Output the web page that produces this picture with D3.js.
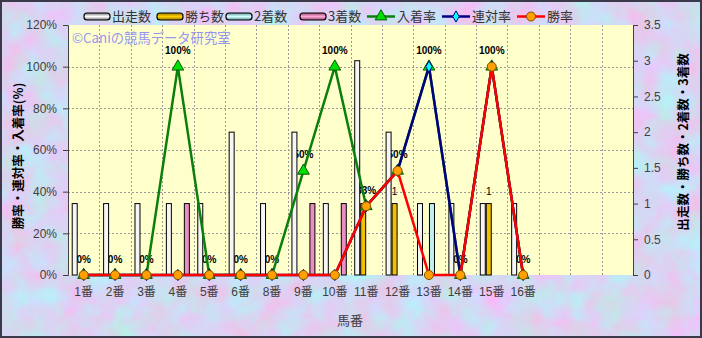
<!DOCTYPE html>
<html>
<head>
<meta charset="utf-8">
<title>馬番別成績</title>
<style type="text/css">
	body { margin: 0; padding: 0; background: #ffffff; }
	svg { display: block; font-family: "Liberation Sans", "Noto Sans CJK JP", sans-serif; }
	.tick text { fill: #404040; font-size: 12px; }
	.gtitle { font-family: "Noto Sans CJK JP", sans-serif; font-weight: bold; font-size: 12.5px; fill: #000; }
	.lbl { font-family: "Liberation Sans", sans-serif; font-weight: bold; font-size: 10px; fill: #000; }
</style>
</head>
<body>
<svg id="chart"></svg>
<script src="https://d3js.org/d3.v7.min.js"></script>
<script>
	// 馬番 (7番 has no runs, so it is not listed); 3 empty slots on the right
	var categories = ["1番","2番","3番","4番","5番","6番","8番","9番","10番","11番","12番","13番","14番","15番","16番"];
	var emptySlots = 3;

	// bar series (right axis)
	var starts  = [1,1,1,1,1,2,1,2,1,3,2,1,1,1,1];
	var wins    = [0,0,0,0,0,0,0,0,0,1,1,0,0,1,0];
	var seconds = [0,0,0,0,0,0,0,0,0,0,0,1,0,0,0];
	var thirds  = [0,0,0,1,0,0,0,1,1,0,0,0,0,0,0];

	// line series (left axis, %)
	var placeRate = [0,0,0,100,0,0,0,50,100,33,50,100,0,100,0];
	var quinRate  = [0,0,0,0,0,0,0,0,0,33,50,100,0,100,0];
	var winRate   = [0,0,0,0,0,0,0,0,0,33,50,0,0,100,0];

	var leftTicks  = [0,20,40,60,80,100,120];
	var rightTicks = [0,0.5,1,1.5,2,2.5,3,3.5];

	var width = 702, height = 338;
	var plot = {left: 68, right: 633, top: 25, bottom: 275};

	var svg = d3.select("#chart").attr("width", width).attr("height", height);
	var defs = svg.append("defs");

	// marbled background
	var f = defs.append("filter").attr("id", "marble")
		.attr("x", 0).attr("y", 0).attr("width", "100%").attr("height", "100%")
		.attr("color-interpolation-filters", "sRGB");
	f.append("feTurbulence").attr("type", "fractalNoise").attr("baseFrequency", 0.035)
		.attr("numOctaves", 4).attr("seed", 7);
	f.append("feColorMatrix").attr("type", "matrix")
		.attr("values", "0.36 0 0 0 0.66  -0.3 0 0 0 0.99  0 0.14 0 0 0.88  0 0 0 0 1");

	svg.append("rect").attr("width", width).attr("height", height).attr("filter", "url(#marble)");
	svg.append("rect").attr("x", 1).attr("y", 1).attr("width", width - 2).attr("height", height - 2)
		.attr("fill", "none").attr("stroke", "#3a3a4a").attr("stroke-width", 2);

	var idx = d3.range(categories.length + emptySlots);

	var x = d3.scaleBand().domain(idx).range([plot.left, plot.right]);
	var barKeys = ["starts","wins","seconds","thirds"];
	var xs = d3.scaleBand().domain(barKeys).range([0, x.bandwidth()]).paddingOuter(0.62);

	var yL = d3.scaleLinear().domain([0, 120]).range([plot.bottom, plot.top]);
	var yR = d3.scaleLinear().domain([0, 3.5]).range([plot.bottom, plot.top]);

	// plot area
	svg.append("rect").attr("x", plot.left).attr("y", plot.top)
		.attr("width", plot.right - plot.left).attr("height", plot.bottom - plot.top)
		.attr("fill", "#ffffcc");

	// grid
	var grid = svg.append("g").attr("stroke", "#9a9a9a").attr("stroke-dasharray", "2,2").attr("stroke-width", 1);
	grid.selectAll("line.h").data(leftTicks.filter(d => d > 0 && d < 120)).enter().append("line")
		.attr("x1", plot.left).attr("x2", plot.right)
		.attr("y1", d => Math.round(yL(d)) + 0.5).attr("y2", d => Math.round(yL(d)) + 0.5);
	grid.selectAll("line.v").data(idx.slice(1)).enter().append("line")
		.attr("y1", plot.top).attr("y2", plot.bottom)
		.attr("x1", d => Math.round(x(d)) + 0.5).attr("x2", d => Math.round(x(d)) + 0.5);

	// watermark
	svg.append("text").attr("x", 72).attr("y", 42.5)
		.attr("font-family", "'Noto Sans CJK JP', sans-serif").attr("font-size", 13.3)
		.attr("fill", "#9696f0").text("©Caniの競馬データ研究室");

	var cx = i => x(i) + x.bandwidth() / 2;

	// 入着率 labels (sit under the bars)
	var labelY = d => yL(d) - 12.5;
	svg.append("g").selectAll("text").data(placeRate).enter().append("text")
		.attr("class", "lbl").attr("text-anchor", "middle")
		.attr("x", (d, i) => cx(i)).attr("y", labelY)
		.text(d => d + "%");

	// bars
	var barSeries = [
		{key: "starts",  values: starts,  fill: "#f6f6f6"},
		{key: "wins",    values: wins,    fill: "#f2c000"},
		{key: "seconds", values: seconds, fill: "#bff0f0"},
		{key: "thirds",  values: thirds,  fill: "#ec8ec2"}
	];
	var bars = svg.append("g");
	barSeries.forEach(function(s) {
		bars.append("g").selectAll("rect").data(s.values).enter().append("rect")
			.attr("x", (d, i) => x(i) + xs(s.key) + 0.5)
			.attr("y", d => yR(d))
			.attr("width", xs.bandwidth() - 1)
			.attr("height", d => yR(0) - yR(d))
			.attr("fill", s.fill).attr("stroke", "#000").attr("stroke-width", 1);
	});

	// 勝ち数 labels (hidden where the 入着率 label already sits)
	var winLabels = wins.map((d, i) => ({d: d, i: i}))
		.filter(o => o.d > 0 && Math.abs(labelY(placeRate[o.i]) - (yR(o.d) - 9)) > 8);
	svg.append("g").selectAll("text").data(winLabels).enter().append("text")
		.attr("class", "lbl").attr("text-anchor", "middle").style("font-weight", "normal")
		.attr("x", o => x(o.i) + xs("wins") + xs.bandwidth() / 2)
		.attr("y", o => yR(o.d) - 9)
		.text(o => o.d);

	// lines
	var line = d3.line().x((d, i) => cx(i)).y(d => yL(d));
	var lineSeries = [
		{values: placeRate, stroke: "#0a800a", marker: "tri", mfill: "#00e000", mstroke: "#0a5a0a"},
		{values: quinRate,  stroke: "#000080", marker: "dia", mfill: "#00ffff", mstroke: "#000080"},
		{values: winRate,   stroke: "#ff0000", marker: "cir", mfill: "#ffa000", mstroke: "#7a5000"}
	];
	var symbols = {
		tri: d3.symbol().type(d3.symbolTriangle).size(60),
		dia: d3.symbol().type(d3.symbolDiamond).size(36),
		cir: d3.symbol().type(d3.symbolCircle).size(64)
	};
	lineSeries.forEach(function(s) {
		var g = svg.append("g");
		g.append("path").datum(s.values).attr("d", line)
			.attr("fill", "none").attr("stroke", s.stroke).attr("stroke-width", 2.5);
		g.selectAll("path.m").data(s.values).enter().append("path")
			.attr("transform", (d, i) => "translate(" + cx(i) + "," + yL(d) + ")")
			.attr("d", symbols[s.marker])
			.attr("fill", s.mfill).attr("stroke", s.mstroke).attr("stroke-width", 1);
	});

	// axes
	var axL = svg.append("g").attr("transform", "translate(" + plot.left + ",0)")
		.call(d3.axisLeft(yL).tickValues(leftTicks).tickFormat(d => d + "%").tickSize(5).tickPadding(6));
	var axR = svg.append("g").attr("transform", "translate(" + plot.right + ",0)")
		.call(d3.axisRight(yR).tickValues(rightTicks).tickFormat(d3.format("")).tickSize(5).tickPadding(6));
	var axB = svg.append("g").attr("transform", "translate(0," + plot.bottom + ")")
		.call(d3.axisBottom(x).tickFormat(i => categories[i] || "").tickSize(0).tickPadding(12));
	[axL, axR].forEach(a => {
		a.select(".domain").attr("stroke", "#404040");
		a.selectAll(".tick line").attr("stroke", "#404040");
	});
	axB.select(".domain").remove();
	svg.selectAll(".tick text").attr("font-family", "'Liberation Sans', 'Noto Sans CJK JP', sans-serif");

	// axis titles
	svg.append("text").attr("class", "gtitle").attr("text-anchor", "middle")
		.attr("transform", "translate(23,156) rotate(-90)").text("勝率・連対率・入着率(%)");
	svg.append("text").attr("class", "gtitle").attr("text-anchor", "middle")
		.attr("transform", "translate(688,142) rotate(-90)").text("出走数・勝ち数・2着数・3着数");
	svg.append("text").attr("x", 350).attr("y", 325).attr("text-anchor", "middle")
		.attr("font-family", "'Noto Sans CJK JP', sans-serif").attr("font-size", 13).attr("fill", "#404040")
		.text("馬番");

	// legend
	var legendBars = [
		{name: "出走数", x: 84,  c1: "#7a7a7a", c2: "#ffffff"},
		{name: "勝ち数", x: 157, c1: "#a07800", c2: "#ffd000"},
		{name: "2着数",  x: 226, c1: "#5c9a9a", c2: "#d8ffff"},
		{name: "3着数",  x: 300, c1: "#9a4a74", c2: "#ffa8d8"}
	];
	var lg = svg.append("g");
	legendBars.forEach(function(l, k) {
		var gr = defs.append("linearGradient").attr("id", "lg" + k).attr("x1", 0).attr("y1", 0).attr("x2", 0).attr("y2", 1);
		gr.append("stop").attr("offset", "0%").attr("stop-color", l.c1);
		gr.append("stop").attr("offset", "50%").attr("stop-color", l.c2);
		gr.append("stop").attr("offset", "100%").attr("stop-color", l.c1);
		lg.append("rect").attr("x", l.x).attr("y", 13).attr("width", 26).attr("height", 7).attr("rx", 3)
			.attr("fill", "url(#lg" + k + ")").attr("stroke", "#000").attr("stroke-width", 1.2);
		lg.append("text").attr("x", l.x + 28).attr("y", 21).attr("font-size", 13).attr("fill", "#333")
			.attr("font-family", "'Noto Sans CJK JP', sans-serif").text(l.name);
	});
	var legendLines = [
		{name: "入着率", x: 367, s: 0},
		{name: "連対率", x: 442, s: 1},
		{name: "勝率",   x: 517, s: 2}
	];
	legendLines.forEach(function(l) {
		var s = lineSeries[l.s];
		lg.append("line").attr("x1", l.x).attr("x2", l.x + 28).attr("y1", 16.5).attr("y2", 16.5)
			.attr("stroke", s.stroke).attr("stroke-width", 2.5);
		lg.append("path").attr("transform", "translate(" + (l.x + 14) + ",16.5)")
			.attr("d", symbols[s.marker]).attr("fill", s.mfill).attr("stroke", s.mstroke);
		lg.append("text").attr("x", l.x + 30).attr("y", 21).attr("font-size", 13).attr("fill", "#333")
			.attr("font-family", "'Noto Sans CJK JP', sans-serif").text(l.name);
	});
</script>
</body>
</html>
